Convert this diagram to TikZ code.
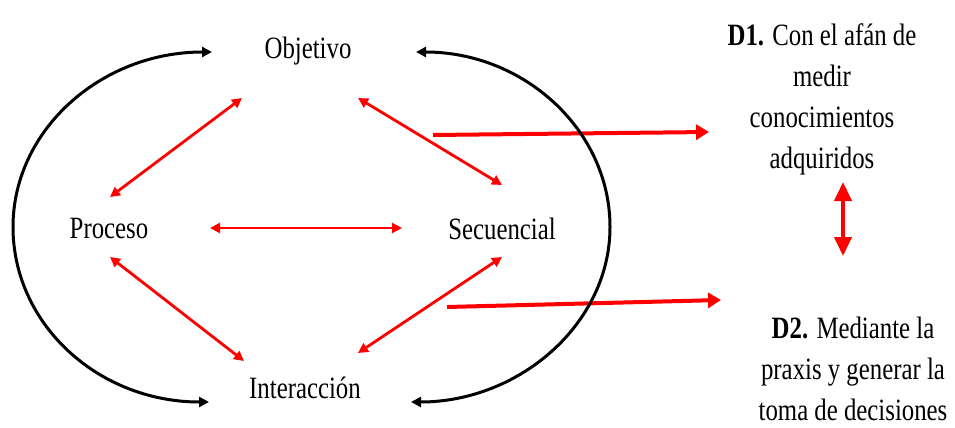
\documentclass[tikz,border=0pt]{standalone}
\usepackage{fontspec}
\setmainfont{Liberation Serif}[FakeStretch=0.8]
\usetikzlibrary{arrows.meta}
\begin{document}
\begin{tikzpicture}[x=1pt,y=-1pt,
  lbl/.style={font=\fontsize{31}{41}\selectfont, inner sep=0pt, anchor=base},
  desc/.style={font=\fontsize{31}{41}\selectfont, inner sep=0pt, anchor=base, align=center},
  thinred/.style={draw=red, line width=2.8pt, {Triangle[length=10pt,width=10pt]}-{Triangle[length=10pt,width=10pt]}},
  thickred/.style={draw=red, line width=4pt, -{Triangle[length=13pt,width=15pt]}},
  dblred/.style={draw=red, line width=4pt, {Triangle[length=19pt,width=17pt]}-{Triangle[length=19pt,width=17pt]}},
  cycle/.style={draw=black, line width=3pt, -{Triangle[length=10pt,width=10pt]}}
]
\useasboundingbox (0,0) rectangle (955,428);

% main labels
\node[lbl] (obj) at (308,59) {Objetivo};
\node[lbl] (pro) at (109,238) {Proceso};
\node[lbl] (sec) at (502,239) {Secuencial};
\node[lbl] (int) at (305,398) {Interacción};

% descriptions (base anchor = last line)
\node[desc] (d1) at (822,168) {\textbf{D1.} Con el afán de\\medir\\conocimientos\\adquiridos};
\node[desc] (d2) at (853,420) {\textbf{D2.} Mediante la\\praxis y generar la\\toma de decisiones};

% arrow end points
\coordinate (op1) at (242,98);  \coordinate (op2) at (110,197);
\coordinate (os1) at (358,98);  \coordinate (os2) at (502,185);
\coordinate (ps1) at (210,228); \coordinate (ps2) at (402,228);
\coordinate (pi1) at (110,257); \coordinate (pi2) at (244,361);
\coordinate (si1) at (502,257); \coordinate (si2) at (358,353);
\coordinate (t1) at (433,135);  \coordinate (t2) at (709,132);
\coordinate (b1) at (447,307);  \coordinate (b2) at (721,300);
\coordinate (v1) at (843,182);  \coordinate (v2) at (843,256);

% red double arrows
\draw[thinred] (op1) -- (op2);
\draw[thinred] (os1) -- (os2);
\draw[thinred] (ps1) -- (ps2);
\draw[thinred] (pi1) -- (pi2);
\draw[thinred] (si1) -- (si2);

% thick red arrows
\draw[thickred] (t1) -- (t2);
\draw[thickred] (b1) -- (b2);
\draw[dblred] (v1) -- (v2);

% black cycle arcs
\coordinate (lt) at (212,52); \coordinate (lb) at (209,402);
\coordinate (rt) at (416,52); \coordinate (rb) at (411,402);
\draw[cycle] (13,227) .. controls (13,130) and (101,52) .. (lt);
\draw[cycle] (13,227) .. controls (13,324) and (98,402) .. (lb);
\draw[cycle] (610,227) .. controls (610,130) and (524,52) .. (rt);
\draw[cycle] (610,227) .. controls (610,324) and (519,402) .. (rb);
\end{tikzpicture}
\end{document}
